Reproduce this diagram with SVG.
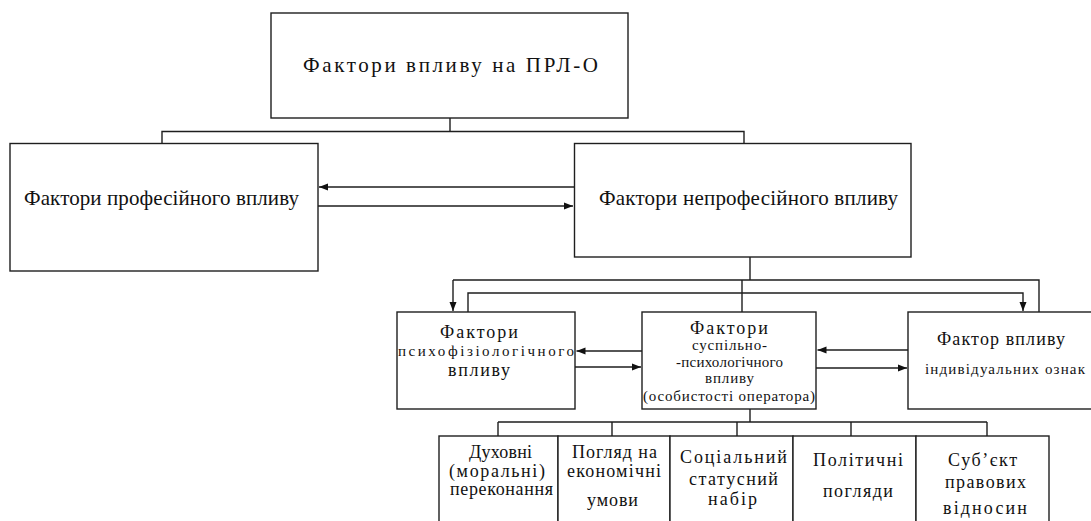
<svg xmlns="http://www.w3.org/2000/svg" width="1091" height="521" viewBox="0 0 1091 521">
  <defs>
    <style>
      .box { fill: #ffffff; stroke: #1e1e1e; stroke-width: 1.4; }
      .wire { fill: none; stroke: #1e1e1e; stroke-width: 1.4; }
      text { font-family: "Liberation Serif", "Times New Roman", "DejaVu Serif", serif; fill: #111111; }
      .big { font-size: 21px; }
      .head { font-size: 18px; }
      .mid { font-size: 18px; }
      .sm { font-size: 15px; }
    </style>
    <marker id="head" markerUnits="userSpaceOnUse" markerWidth="10" markerHeight="8" refX="9" refY="4" orient="auto">
      <path d="M0,0.5 L9,4 L0,7.5 Z" fill="#111111"/>
    </marker>
  </defs>

  <rect width="1091" height="521" fill="#ffffff"/>

  <!-- connectors -->
  <g id="connectors">
    <!-- root to first level -->
    <path class="wire" d="M450,118 V131.5 M162,143.5 V131.5 H744 V143.5"/>
    <!-- mutual influence between the two first-level groups -->
    <path class="wire" d="M574.5,187 H319" marker-end="url(#head)"/>
    <path class="wire" d="M318,206 H573" marker-end="url(#head)"/>
    <!-- non-professional factors to their three subgroups -->
    <path class="wire" d="M750,257 V280 M453,280 H1039 V312 M742,280 V312"/>
    <path class="wire" d="M453,280 V311" marker-end="url(#head)"/>
    <path class="wire" d="M468,312 V293 H1023 V311" marker-end="url(#head)"/>
    <!-- mutual influence between subgroups -->
    <path class="wire" d="M642,351 H576.5" marker-end="url(#head)"/>
    <path class="wire" d="M575,367 H641" marker-end="url(#head)"/>
    <path class="wire" d="M908,350 H817.5" marker-end="url(#head)"/>
    <path class="wire" d="M816,368 H907" marker-end="url(#head)"/>
    <!-- social-psychological factors to their components -->
    <path class="wire" d="M750,409 V422 M498,422 H987 M498,422 V436 M612,422 V436 M737,422 V436 M851,422 V436 M987,422 V436"/>
  </g>

  <!-- root -->
  <g id="root">
    <rect class="box" x="271" y="13" width="357" height="105"/>
    <text class="big" x="303" y="72" textLength="295" lengthAdjust="spacing">Фактори впливу на ПРЛ-О</text>
  </g>

  <g id="professional">
    <rect class="box" x="10" y="143.5" width="308" height="127.5"/>
    <text class="big" x="24" y="205" textLength="275" lengthAdjust="spacing">Фактори професійного впливу</text>
  </g>

  <g id="nonprofessional">
    <rect class="box" x="574.5" y="143.5" width="336.5" height="113.5"/>
    <text class="big" x="599" y="205" textLength="299" lengthAdjust="spacing">Фактори непрофесійного впливу</text>
  </g>

  <g id="psychophysiological">
    <rect class="box" x="397" y="312" width="178" height="97"/>
    <text class="head" x="440" y="338" textLength="78" lengthAdjust="spacing">Фактори</text>
    <text class="sm" x="398" y="356" textLength="176" lengthAdjust="spacing">психофізіологічного</text>
    <text class="head" x="448" y="376" textLength="62" lengthAdjust="spacing">впливу</text>
  </g>

  <g id="social-psychological">
    <rect class="box" x="642" y="312" width="174" height="97"/>
    <text class="head" x="690" y="334" textLength="78" lengthAdjust="spacing">Фактори</text>
    <text class="sm" x="692" y="350" textLength="75" lengthAdjust="spacing">суспільно-</text>
    <text class="sm" x="676" y="367" textLength="107" lengthAdjust="spacing">-психологічного</text>
    <text class="sm" x="705" y="383" textLength="49" lengthAdjust="spacing">впливу</text>
    <text class="sm" x="643" y="401" textLength="172" lengthAdjust="spacing">(особистості оператора)</text>
  </g>

  <g id="individual">
    <rect class="box" x="908" y="312" width="200" height="97"/>
    <text class="head" x="937" y="345" textLength="128" lengthAdjust="spacing">Фактор впливу</text>
    <text class="sm" x="925" y="374" textLength="160" lengthAdjust="spacing">індивідуальних ознак</text>
  </g>

  <g id="spiritual">
    <rect class="box" x="439" y="436" width="119" height="95"/>
    <text class="mid" x="469" y="458" textLength="63" lengthAdjust="spacing">Духовні</text>
    <text class="mid" x="449" y="477" textLength="96" lengthAdjust="spacing">(моральні)</text>
    <text class="mid" x="450" y="495" textLength="103" lengthAdjust="spacing">переконання</text>
  </g>

  <g id="economic">
    <rect class="box" x="558" y="436" width="112" height="95"/>
    <text class="mid" x="572" y="458" textLength="85" lengthAdjust="spacing">Погляд на</text>
    <text class="mid" x="567" y="477" textLength="94" lengthAdjust="spacing">економічні</text>
    <text class="mid" x="587" y="506" textLength="51" lengthAdjust="spacing">умови</text>
  </g>

  <g id="status">
    <rect class="box" x="670" y="436" width="123" height="95"/>
    <text class="mid" x="680" y="463" textLength="107" lengthAdjust="spacing">Соціальний</text>
    <text class="mid" x="689" y="485" textLength="89" lengthAdjust="spacing">статусний</text>
    <text class="mid" x="708" y="505" textLength="49" lengthAdjust="spacing">набір</text>
  </g>

  <g id="political">
    <rect class="box" x="793" y="436" width="123" height="95"/>
    <text class="mid" x="813" y="466" textLength="90" lengthAdjust="spacing">Політичні</text>
    <text class="mid" x="823" y="497" textLength="70" lengthAdjust="spacing">погляди</text>
  </g>

  <g id="legal">
    <rect class="box" x="916" y="436" width="133" height="95"/>
    <text class="mid" x="948" y="466" textLength="69" lengthAdjust="spacing">Суб’єкт</text>
    <text class="mid" x="945" y="488" textLength="81" lengthAdjust="spacing">правових</text>
    <text class="mid" x="943" y="514" textLength="84" lengthAdjust="spacing">відносин</text>
  </g>
</svg>
